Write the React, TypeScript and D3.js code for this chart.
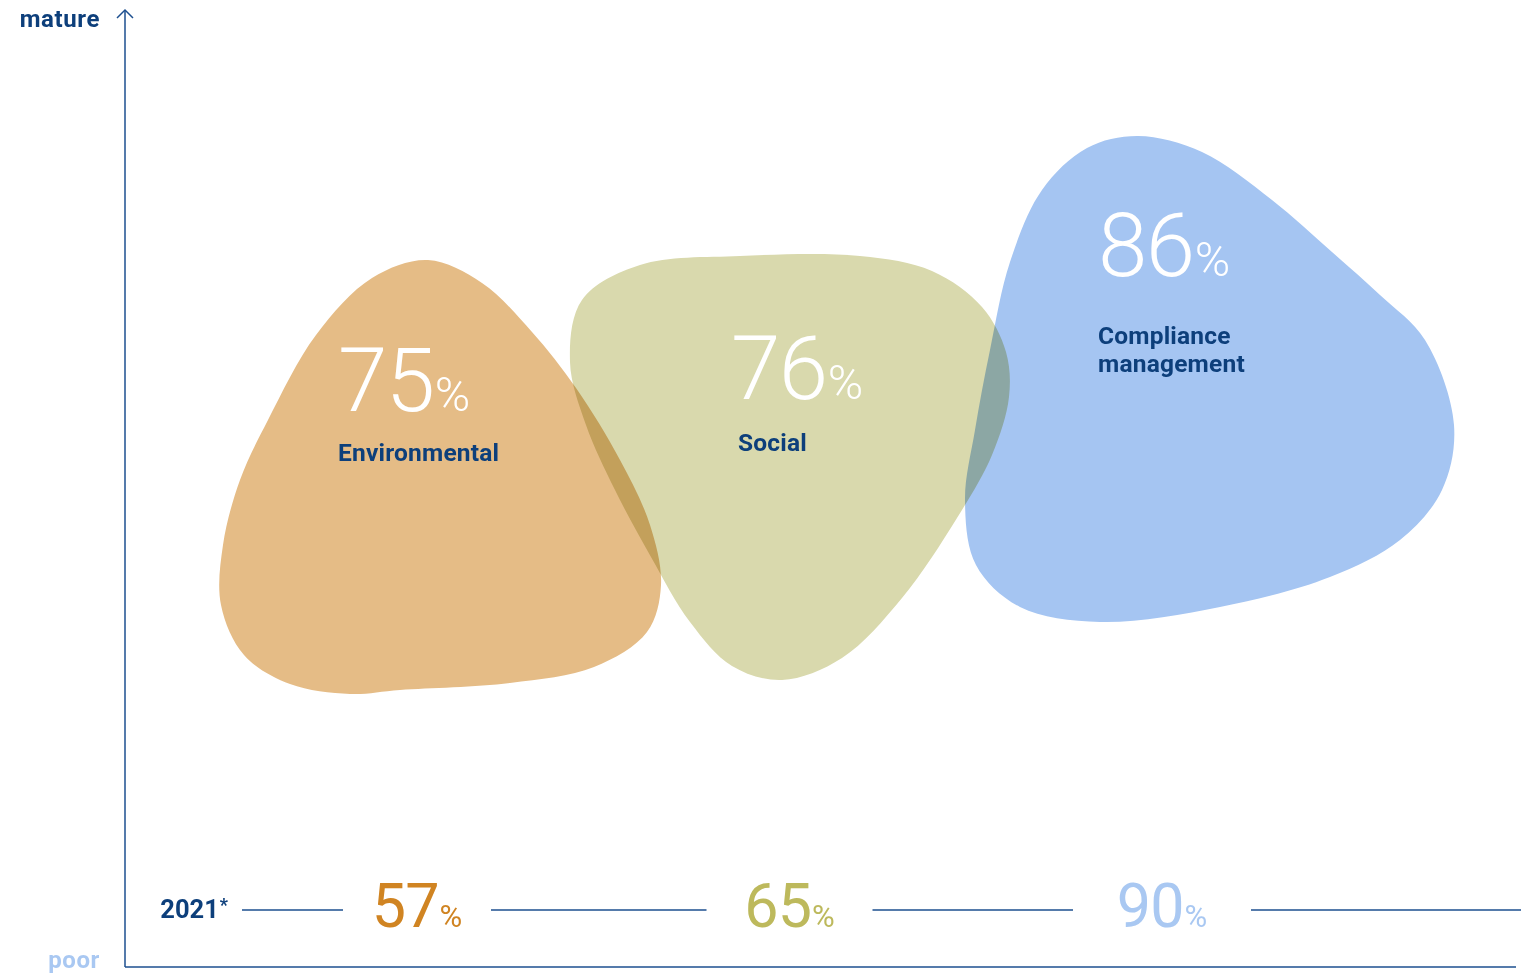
import React from "react";
import * as d3 from "d3";

const categories = ["Environmental", "Social", "Compliance management"];
const labelLines = [["Environmental"], ["Social"], ["Compliance", "management"]];
const values2023 = [75, 76, 86];
const values2021 = [57, 65, 90];
const blobColors = ["#E5BC86", "#D9D9AD", "#A5C5F2"];
const numColors2021 = ["#D08422", "#BDB95C", "#A9C8F2"];

// blob outlines (geometry)
const blobShapes: [number, number][][] = [
  [[428,260],[482,283],[532,332],[576,388],[620,460],[650,525],[661,585],[647,632],[594,667],[510,683],[400,690],[350,694],[290,684],[244,655],[221,605],[223,545],[240,480],[268,420],[316,335],[372,278]],
  [[640,265],[740,256],[860,256],[932,271],[982,307],[1006,352],[1009,397],[992,455],[957,518],[902,598],[842,658],[782,680],[732,666],[690,622],[651,557],[615,490],[586,425],[570,362],[582,300]],
  [[1138,136],[1202,152],[1272,200],[1332,252],[1380,295],[1425,340],[1454,425],[1442,490],[1400,540],[1330,577],[1220,607],[1100,622],[1020,607],[976,565],[965,500],[975,430],[990,350],[1010,262],[1042,190],[1087,148]],
];
const labelAnchors: [number, number, number][] = [
  [338, 411, 461],
  [731, 399, 451],
  [1098, 276, 344],
];

const W = 1532, H = 975;
const navy = "#0D3F7B";
const axisColor = "#1D4F8F";

export default function App() {
  const line = d3.line<[number, number]>().curve(d3.curveCatmullRomClosed.alpha(0.5));
  const x21 = d3.scalePoint<string>().domain(categories).range([417, 1162]);
  const y21 = 910;
  const lineStart = 242, lineEnd = 1521;
  const gapHalf = [74, 83, 89];
  const segs: [number, number][] = [];
  let cur = lineStart;
  categories.forEach((c, i) => {
    const cx = x21(c)!;
    segs.push([cur, cx - gapHalf[i]]);
    cur = cx + gapHalf[i];
  });
  segs.push([cur, lineEnd]);

  return (
    <div style={{ position: "absolute", left: 0, top: 0 }}>
      <svg width={W} height={H} style={{ display: "block", fontFamily: "Roboto, sans-serif" }}>
        <rect width={W} height={H} fill="#fff" />
        <g style={{ isolation: "isolate" }}>
          {blobShapes.map((pts, i) => (
            <path key={i} d={line(pts) || ""} fill={blobColors[i]} style={{ mixBlendMode: "multiply" }} />
          ))}
        </g>
        {categories.map((c, i) => {
          const [lx, ny, ty] = labelAnchors[i];
          return (
            <g key={c}>
              <text x={lx} y={ny} fill="#fff" fontWeight={300}>
                <tspan fontSize={89} letterSpacing={-1.5}>{values2023[i]}</tspan>
                <tspan fontSize={48} dx={1}>%</tspan>
              </text>
              <text x={lx + (i === 1 ? 7 : 0)} y={ty} fill={navy} fontWeight={700} fontSize={24.5} letterSpacing={0.2}>
                {labelLines[i].map((l, k) => (
                  <tspan key={k} x={lx + (i === 1 ? 7 : 0)} dy={k === 0 ? 0 : 28}>{l}</tspan>
                ))}
              </text>
            </g>
          );
        })}
        {/* axes */}
        <line x1={125} y1={10} x2={125} y2={967} stroke={axisColor} strokeWidth={1.5} />
        <line x1={125} y1={967} x2={1516} y2={967} stroke={axisColor} strokeWidth={1.5} />
        <path d="M117,18 L125,10 L133,18" fill="none" stroke={axisColor} strokeWidth={1.5} />
        <text x={100} y={27} textAnchor="end" fill={navy} fontWeight={700} fontSize={24} letterSpacing={0.6}>mature</text>
        <text x={100} y={968} textAnchor="end" fill="#A9C8F2" fontWeight={700} fontSize={24} letterSpacing={0.6}>poor</text>
        {/* 2021 row */}
        <text x={228} y={918} textAnchor="end" fill={navy} fontWeight={700} fontSize={25.5}>2021<tspan fontSize={18} dy={-7} dx={1}>*</tspan></text>
        {segs.map(([a, b], i) => (
          <line key={i} x1={a} x2={b} y1={y21} y2={y21} stroke={axisColor} strokeWidth={1.5} />
        ))}
        {categories.map((c, i) => (
          <text key={c} x={x21(c)} y={927} textAnchor="middle" fill={numColors2021[i]} fontWeight={400}>
            <tspan fontSize={61} letterSpacing={-1}>{values2021[i]}</tspan>
            <tspan fontSize={31} dx={1}>%</tspan>
          </text>
        ))}
      </svg>
    </div>
  );
}
